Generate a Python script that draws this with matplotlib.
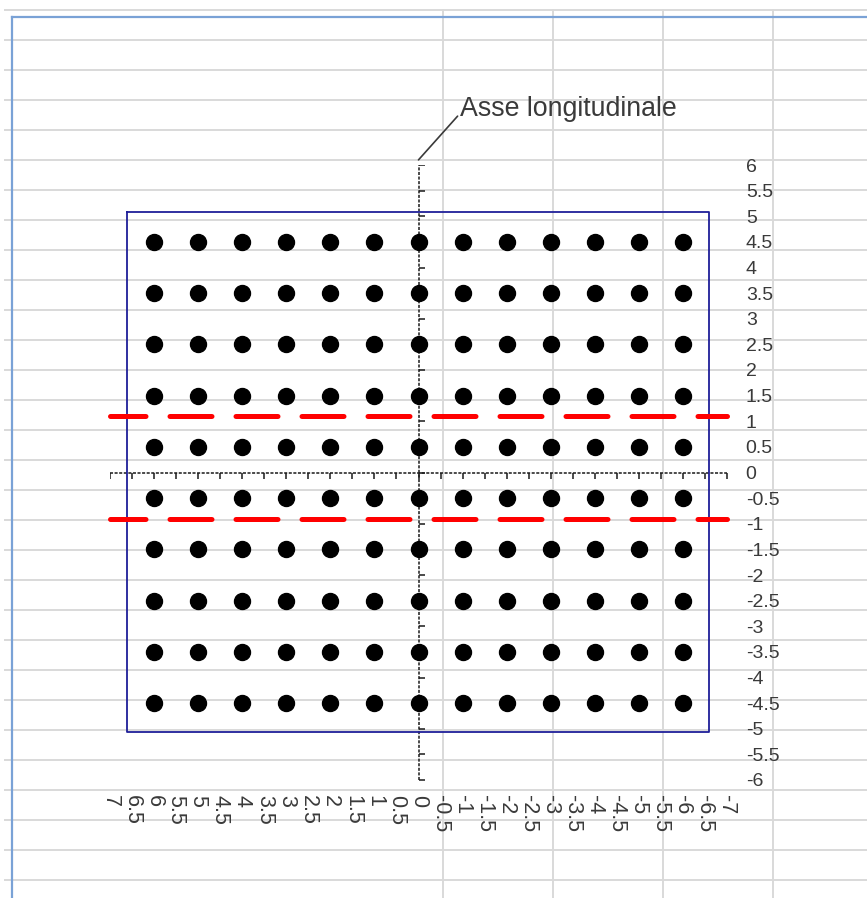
import matplotlib

matplotlib.use("Agg")
import matplotlib.pyplot as plt
import numpy as np
from matplotlib.lines import TICKRIGHT, TICKDOWN

plt.rcParams["font.family"] = ["Liberation Sans", "DejaVu Sans"]

W, H = 867, 898

# ---------------------------------------------------------------- data
dot_x = [6, 5, 4, 3, 2, 1, 0, -1, -2, -3, -4, -5, -6]
dot_y = [4.5, 3.5, 2.5, 1.5, 0.5, -0.5, -1.5, -2.5, -3.5, -4.5]
band_y = [1.1, -0.9]                      # red dashed lines
rect_x = [6.62, -6.6, -6.6, 6.62, 6.62]    # blue outline
rect_y = [5.08, 5.08, -5.06, -5.06, 5.08]
x_ticks = np.arange(7, -7.5, -0.5) + 0.0
y_ticks = np.arange(-6, 6.5, 0.5) + 0.0
x_labels = [f"{v:g}" for v in x_ticks]
y_labels = [f"{v:g}" for v in y_ticks]
callout = "Asse longitudinale"

TXT = "#3a3a3a"

fig = plt.figure(figsize=(W / 100, H / 100), dpi=100)

# ----------------------------------------------- spreadsheet background
bg = fig.add_axes([0, 0, 1, 1], zorder=0)
bg.set_xlim(0, W); bg.set_ylim(H, 0); bg.axis("off")
for yy in range(10, H, 30):
    bg.plot([5, W], [yy, yy], color="#d9d9d9", lw=1.4)
for xx in (443, 553, 663, 773):
    bg.plot([xx, xx], [10, H], color="#d9d9d9", lw=1.4)
bg.plot([11.5, W], [16.5, 16.5], color="#7aa2d6", lw=1.6)
bg.plot([11.5, 11.5], [16.5, H], color="#7aa2d6", lw=1.6)

# ------------------------------------------------------------ the chart
ax = fig.add_axes([110 / W, 1 - 780 / H, 617 / W, 615 / H], zorder=1)
ax.patch.set_alpha(0)
ax.set_xlim(7, -7); ax.set_ylim(-6, 6)
for s in ax.spines.values():
    s.set_visible(False)

ax.set_xticks(x_ticks)
ax.set_xticklabels(x_labels, rotation=270, ha="center", va="top",
                   fontsize=15.5)
ax.yaxis.tick_right()
ax.set_yticks(y_ticks)
ax.set_yticklabels(y_labels, fontsize=14)
ax.tick_params(length=0, labelcolor=TXT)
ax.tick_params(axis="x", pad=11)
ax.tick_params(axis="y", pad=13.5)

# axes crossing at zero, dotted with small ticks
axc = "#1a1a1a"
ax.plot([0, 0], [-6, 6], color=axc, lw=1.1, ls=(0, (2.0, 1.0)))
ax.plot(np.zeros_like(y_ticks), y_ticks, ls="none", marker=TICKRIGHT,
        ms=4, mew=1.1, color=axc)
ax.plot([7, -7], [0, 0], color=axc, lw=1.1, ls=(0, (2.0, 1.0)))
ax.plot(x_ticks, np.zeros_like(x_ticks), ls="none", marker=TICKDOWN,
        ms=4, mew=1.1, color=axc)

# outline, dots and red dashed lines
ax.plot(rect_x, rect_y, color="#1f1f99", lw=1.3)
gx, gy = np.meshgrid(dot_x, dot_y)
ax.plot(gx.ravel(), gy.ravel(), ls="none", marker="o", ms=11.5,
        color="black", zorder=4)
for yv in band_y:
    ax.plot([7, -7], [yv, yv], color="#ff0000", lw=3.6,
            ls=(1.3, (8.4, 4.8)), dash_capstyle="round", clip_on=False,
            zorder=3)

ax.annotate(callout, xy=(0, 6.1), xytext=(-0.95, 7.09), ha="left",
            va="center", fontsize=19.3, color=TXT, annotation_clip=False,
            arrowprops=dict(arrowstyle="-", color=TXT, lw=1.2, shrinkA=0,
                            shrinkB=0, relpos=(0, 0.35)))

fig.savefig("out.png", dpi=100)
